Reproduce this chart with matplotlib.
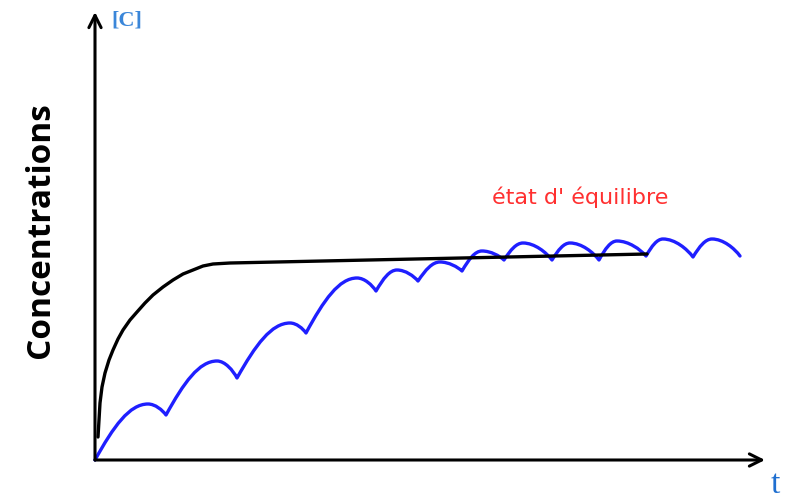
import matplotlib.pyplot as plt
from matplotlib.path import Path
from matplotlib.patches import PathPatch

# black curve: rapid rise then near-flat plateau (t, C)
black_t = [3, 4, 5, 7, 10, 14, 18, 23, 28, 35, 42, 50, 58, 68, 78, 88,
           98, 108, 118, 135, 552]
black_c = [23, 40, 57, 73, 87, 100, 110, 121, 130, 140, 148, 157, 165, 173,
           180, 186, 190, 194, 196, 197, 206]

# blue curve: repeated doses, peaks and troughs (t, C)
blue_start = (0, 0)
peak_t = [53, 122, 195, 262, 302, 345, 387, 428, 475, 522, 568, 617]
peak_c = [56, 99, 137, 182, 190, 198, 209, 217, 217, 219, 221, 221]
trough_t = [71, 142, 211, 281, 323, 367, 409, 457, 504, 551, 598, 645]
trough_c = [45, 82, 127, 169, 179, 189, 200, 200, 200, 204, 203, 204]

fig = plt.figure(figsize=(7.92, 5.0), dpi=100)
ax = fig.add_axes([0, 0, 1, 1])
ax.set_xlim(-95, 697)
ax.set_ylim(-40, 460)
ax.axis('off')

# axes with arrows
ax.annotate('', xy=(0, 448), xytext=(0, 0),
            arrowprops=dict(arrowstyle='->', lw=2.2, color='black',
                            mutation_scale=22, shrinkA=0, shrinkB=0))
ax.annotate('', xy=(670, 0), xytext=(0, 0),
            arrowprops=dict(arrowstyle='->', lw=2.2, color='black',
                            mutation_scale=22, shrinkA=0, shrinkB=0))

# black curve
ax.plot(black_t, black_c, color='black', lw=2.4, solid_capstyle='round',
        solid_joinstyle='round')

# blue curve built from bezier arcs between troughs and peaks
verts = [blue_start]
codes = [Path.MOVETO]
prev = blue_start
for pt, pc, tt, tc in zip(peak_t, peak_c, trough_t, trough_c):
    dx, dy = pt - prev[0], pc - prev[1]
    verts += [(prev[0] + 0.35 * dx, prev[1] + 0.6 * dy),
              (pt - 0.35 * dx, pc), (pt, pc)]
    codes += [Path.CURVE4] * 3
    dx2, dy2 = tt - pt, tc - pc
    verts += [(pt + 0.4 * dx2, pc), (tt - 0.2 * dx2, tc - 0.45 * dy2),
              (tt, tc)]
    codes += [Path.CURVE4] * 3
    prev = (tt, tc)
ax.add_patch(PathPatch(Path(verts, codes), facecolor='none',
                       edgecolor='#1f1fff', lw=2.4, capstyle='round',
                       joinstyle='round'))

# labels
ax.text(16, 440, '[C]', color='#3a86d9', fontsize=16, fontweight='bold',
        family='Liberation Serif', ha='left', va='center')
ax.text(680, -25, 't', color='#1f6fd0', fontsize=24,
        family='Liberation Serif', ha='center', va='center')
ax.text(-55, 230, 'Concentrations', color='black', fontsize=24,
        fontweight='bold', family='Open Sans', rotation=90,
        ha='center', va='center')
ax.text(485, 263, "état d' équilibre", color='#ff3030', fontsize=16,
        family='DejaVu Sans', ha='center', va='center')

fig.savefig('out.png', dpi=100)
